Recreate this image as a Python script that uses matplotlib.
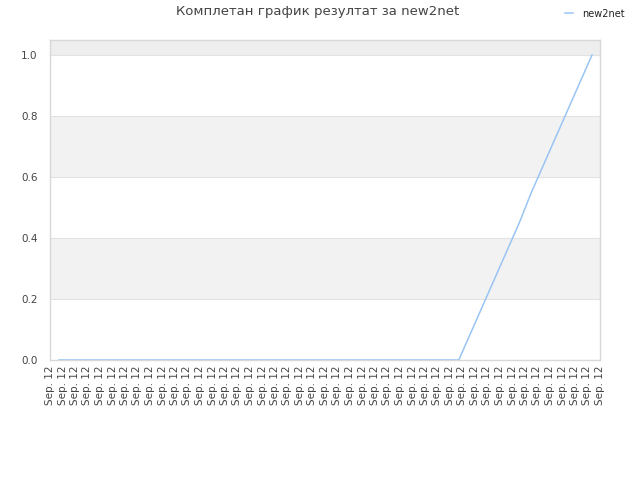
import numpy as np
import matplotlib
matplotlib.use("Agg")
import matplotlib.pyplot as plt

# data
labels = ["Sep. 12"] * 45
values = [0.0] * 34 + [0.09, 0.18, 0.27, 0.36, 0.45, 0.55, 0.64, 0.73, 0.82, 0.91, 1.0]
series_name = "new2net"
title = "Комплетан график резултат за new2net"

line_color = "#99c5f4"
text_color = "#444444"

fig = plt.figure(figsize=(6.4, 4.8), dpi=100)
ax = fig.add_axes([50 / 640, 120 / 480, 550 / 640, 320 / 480])

x = np.arange(len(values))
ax.plot(x, values, color=line_color, linewidth=1.1, label=series_name, zorder=3)

# axis limits so points sit slightly inside the frame
x0 = -9 / 12.16
x1 = len(values) - 1 + 8 / 12.16
ax.set_xlim(x0, x1)
ymax = 1.049
ax.set_ylim(0, ymax)

# alternating horizontal bands
bands = [(0.2, 0.4), (0.6, 0.8)]
for lo, hi in bands:
    ax.axhspan(lo, hi, color="#f2f2f2", zorder=0, linewidth=0)
ax.axhspan(1.0, ymax, color="#eeeeee", zorder=0, linewidth=0)
for yv in [0.2, 0.4, 0.6, 0.8, 1.0]:
    ax.axhline(yv, color="#e2e2e2", linewidth=0.8, zorder=1)

ax.set_yticks([0.0, 0.2, 0.4, 0.6, 0.8, 1.0])
ax.set_yticklabels(["0.0", "0.2", "0.4", "0.6", "0.8", "1.0"])
ax.set_xticks(np.linspace(x0, x1, len(labels)))
ax.set_xticklabels(labels, rotation=90)
ax.tick_params(axis="y", length=0, pad=9, labelsize=7.5, labelcolor=text_color)
ax.tick_params(axis="x", length=0, pad=4, labelsize=7.5, labelcolor=text_color)

for s in ax.spines.values():
    s.set_color("#d8d8d8")
    s.set_linewidth(1.0)

fig.text(318 / 640, 1 - 12 / 480, title, ha="center", va="center",
         fontsize=9.5, color=text_color)

leg = fig.legend(loc="upper right", bbox_to_anchor=(0.99, 1.0), frameon=False,
                 fontsize=7, handlelength=0.9, handletextpad=0.9)
for t in leg.get_texts():
    t.set_color("#222222")

fig.savefig("out.png", dpi=100)
